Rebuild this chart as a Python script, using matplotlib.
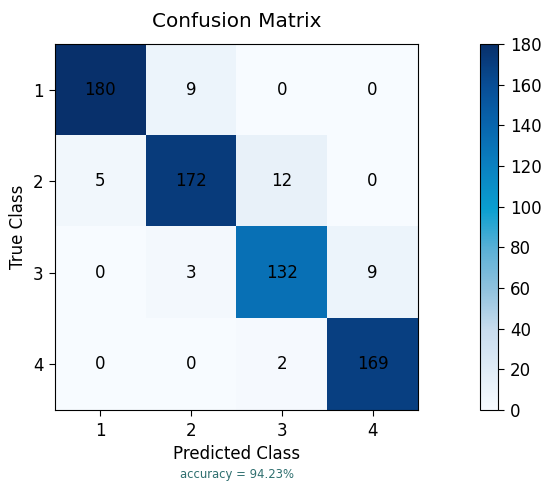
import numpy as np
import matplotlib
matplotlib.use("Agg")
import matplotlib.pyplot as plt
from matplotlib.colors import LinearSegmentedColormap

classes = ["1", "2", "3", "4"]
matrix = np.array([
    [180, 9, 0, 0],
    [5, 172, 12, 0],
    [0, 3, 132, 9],
    [0, 0, 2, 169],
])
accuracy_text = "accuracy = 94.23%"

cmap = LinearSegmentedColormap.from_list("cm", [
    (0.0, "#f7fbff"),
    (0.22, "#c8dcee"),
    (0.33, "#90c2de"),
    (0.44, "#5ab0d6"),
    (0.55, "#0a9fd0"),
    (0.67, "#0a80c0"),
    (0.78, "#0865ad"),
    (0.89, "#084d95"),
    (1.0, "#08306b"),
])

S = 1.2
fig = plt.figure(figsize=(5.5, 4.9), dpi=100)
ax = fig.add_axes([0.1, 0.163, 0.66, 0.747])
cax = fig.add_axes([0.873, 0.163, 0.033, 0.747])

im = ax.imshow(matrix, cmap=cmap, vmin=0, vmax=180, aspect="auto")
for i in range(matrix.shape[0]):
    for j in range(matrix.shape[1]):
        ax.text(j, i, str(matrix[i, j]), ha="center", va="center", color="black", fontsize=10 * S)

ax.set_xticks(range(len(classes)))
ax.set_xticklabels(classes)
ax.set_yticks(range(len(classes)))
ax.set_yticklabels(classes)
ax.tick_params(labelsize=10 * S, length=3.5 * S, pad=3.5 * S)
ax.set_xlabel("Predicted Class", fontsize=10 * S, labelpad=4)
ax.set_ylabel("True Class", fontsize=10 * S, labelpad=4)
ax.set_title("Confusion Matrix", fontsize=12 * S, pad=12)

cb = fig.colorbar(im, cax=cax)
cb.set_ticks(range(0, 181, 20))
cax.tick_params(labelsize=10 * S, length=3.5 * S, pad=3.5 * S)

fig.text(0.43, 0.031, accuracy_text, ha="center", va="center", fontsize=7 * S, color="#2f6f6f")

fig.savefig("out.png", dpi=100)
